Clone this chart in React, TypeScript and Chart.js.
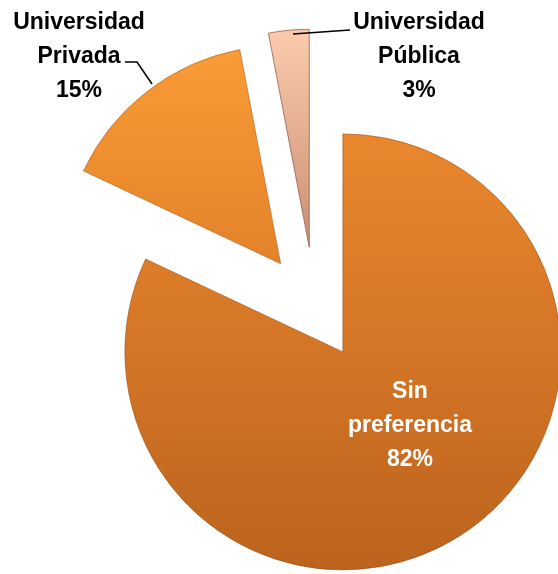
import React, { useEffect, useRef } from 'react';
import { Chart, registerables } from 'chart.js';

Chart.register(...registerables);

// ---- data ----
const categories = ['Sin preferencia', 'Universidad Privada', 'Universidad Pública'];
const values = [82, 15, 3];

// ---- styling ----
const topColors = ['#EA872D', '#FA9C37', '#FCCBAE'];
const bottomColors = ['#BC631E', '#E3822A', '#C98E73'];
const edgeColors = ['rgba(150,75,20,0.55)', 'rgba(170,90,25,0.55)', 'rgba(140,90,70,0.75)'];
const explode = [52, 56, 61];
const labelColors = ['#FFFFFF', '#000000', '#000000'];
const labelAnchors = [
  [410, 392],
  [79, 23],
  [419, 23],
];
const LINE_H = 34;

const W = 558;
const H = 574;
const CX = 315;
const CY = 308;
const R = 218;

const total = values.reduce((a, b) => a + b, 0);
function midAngle(i: number) {
  let cum = 0;
  for (let k = 0; k < i; k++) cum += values[k];
  return -Math.PI / 2 + (2 * Math.PI * (cum + values[i] / 2)) / total;
}

export default function App() {
  const ref = useRef<HTMLCanvasElement>(null);

  useEffect(() => {
    const canvas = ref.current!;

    const explodePlugin = {
      id: 'explodeSlices',
      afterUpdate(chart: any) {
        const meta = chart.getDatasetMeta(0);
        const ca = chart.chartArea;
        const cx = (ca.left + ca.right) / 2;
        const cy = (ca.top + ca.bottom) / 2;
        meta.data.forEach((arc: any, i: number) => {
          const mid = (arc.startAngle + arc.endAngle) / 2;
          arc.x = cx + Math.cos(mid) * explode[i];
          arc.y = cy + Math.sin(mid) * explode[i];
        });
      },
    };

    const labelPlugin = {
      id: 'sliceLabels',
      afterDraw(chart: any) {
        const ctx = chart.ctx as CanvasRenderingContext2D;
        ctx.save();
        // leader lines
        ctx.strokeStyle = '#000';
        ctx.lineWidth = 1.5;
        ctx.beginPath();
        ctx.moveTo(125, 62);
        ctx.lineTo(137, 62);
        ctx.lineTo(152, 84);
        ctx.stroke();
        ctx.beginPath();
        ctx.moveTo(293, 34);
        ctx.lineTo(350, 30);
        ctx.stroke();

        ctx.font = 'bold 23px "Liberation Sans", Arial, sans-serif';
        ctx.textAlign = 'center';
        ctx.textBaseline = 'middle';
        categories.forEach((cat, i) => {
          const words = cat.split(' ');
          const pct = Math.round((values[i] / total) * 100) + '%';
          const lines = [...words, pct];
          const [x, y] = labelAnchors[i];
          ctx.fillStyle = labelColors[i];
          lines.forEach((ln, k) => ctx.fillText(ln, x, y + k * LINE_H));
        });
        ctx.restore();
      },
    };

    const chart = new Chart(canvas, {
      type: 'pie',
      data: {
        labels: categories,
        datasets: [
          {
            data: values,
            backgroundColor: (c: any) => {
              const i = c.dataIndex ?? 0;
              const ca = c.chart.chartArea;
              if (!ca) return topColors[i];
              const cy = (ca.top + ca.bottom) / 2 + Math.sin(midAngle(i)) * explode[i];
              const y0 = cy - R;
              const y1 = i === 0 ? cy + R : cy;
              const g = c.chart.ctx.createLinearGradient(0, y0, 0, y1);
              g.addColorStop(0, topColors[i]);
              g.addColorStop(1, bottomColors[i]);
              return g;
            },
            borderColor: edgeColors,
            borderWidth: 1,
            clip: false as any,
          },
        ],
      },
      options: {
        responsive: false,
        animation: false,
        radius: R,
        layout: {
          padding: { left: 2 * CX - W, top: 2 * CY - H, right: 0, bottom: 0 },
        },
        plugins: {
          legend: { display: false },
          tooltip: { enabled: false },
        },
        events: [],
      } as any,
      plugins: [explodePlugin, labelPlugin],
    });
    return () => chart.destroy();
  }, []);

  return (
    <div style={{ position: 'fixed', left: 0, top: 0, width: W, height: H, background: '#fff' }}>
      <canvas ref={ref} width={W} height={H} style={{ display: 'block' }} />
    </div>
  );
}
